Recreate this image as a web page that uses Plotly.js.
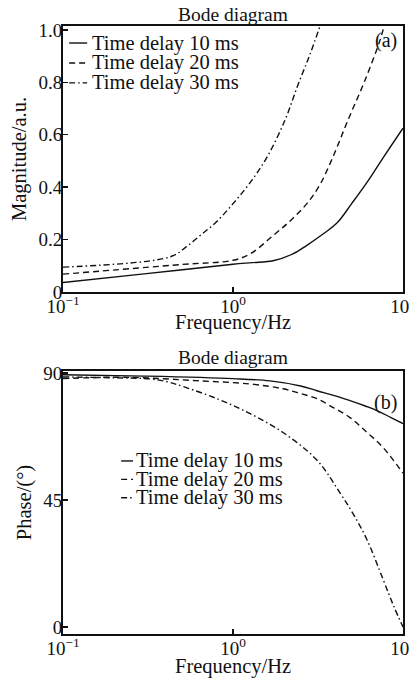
<!DOCTYPE html>
<html><head><meta charset="utf-8">
<script src="https://cdn.plot.ly/plotly-3.0.1.min.js"></script>
<style>html,body{margin:0;padding:0;background:#fff}#chart{width:410px;height:680px}</style>
</head><body><div id="chart"></div><script>
// ---- data ----
const seriesNames = ['Time delay 10 ms', 'Time delay 20 ms', 'Time delay 30 ms'];

const magFreq10 = [0.1, 0.3, 1.0, 1.3, 1.72, 2.25, 2.72, 3.4, 4.1, 5.0, 6.14, 7.6, 10];
const mag10     = [0.036, 0.069, 0.106, 0.112, 0.119, 0.145, 0.178, 0.222, 0.264, 0.338, 0.418, 0.51, 0.625];
const magFreq20 = [0.1, 0.5, 1.0, 1.26, 1.72, 2.2, 2.72, 3.25, 3.87, 4.74, 5.98, 7.32, 7.74];
const mag20     = [0.068, 0.105, 0.121, 0.145, 0.215, 0.275, 0.337, 0.41, 0.515, 0.655, 0.808, 0.96, 1.015];
const magFreq30 = [0.1, 0.426, 0.53, 0.64, 0.8, 1.0, 1.26, 1.58, 2.02, 2.41, 2.85, 3.25];
const mag30     = [0.095, 0.134, 0.172, 0.215, 0.268, 0.337, 0.417, 0.513, 0.655, 0.79, 0.91, 1.015];

const phaseFreq10 = [0.1, 0.3, 1.0, 1.65, 2.5, 3.12, 4.0, 4.88, 6.0, 7.03, 8.5, 10];
const phase10     = [89.4, 88.9, 88.0, 87.2, 85.4, 83.7, 81.9, 80.2, 78.3, 76.7, 74.2, 72.1];
const phaseFreq20 = [0.1, 0.2, 0.325, 0.6, 1.26, 1.97, 2.5, 3.12, 3.9, 4.88, 6.1, 7.63, 10];
const phase20     = [88.0, 88.5, 88.2, 87.3, 86.1, 84.4, 82.7, 80.9, 77.7, 74.2, 69.1, 63.6, 54.5];
const phaseFreq30 = [0.1, 0.2, 0.325, 0.41, 0.508, 0.805, 1.26, 1.97, 3.12, 4.26, 5.1, 6.14, 7.63, 8.8, 10];
const phase30     = [88.6, 88.3, 87.9, 86.9, 85.2, 80.9, 75.6, 68.9, 59.1, 47.5, 40.0, 30.9, 16.9, 7.5, 0];

const xTickVals = [0.1, 1, 10];
const xTickText = ['10<sup>−1</sup>', '10<sup>0</sup>', '10<sup>1</sup>'];
const magTickVals = [0, 0.2, 0.4, 0.6, 0.8, 1.0];
const magTickText = ['0', '0.2', '0.4', '0.6', '0.8', '1.0'];
const phaseTickVals = [0, 45, 90];
const phaseTickText = ['0', '45', '90'];

// ---- styles ----
const FONT = 'Liberation Serif, Times New Roman, serif';
const INK = '#111';
const dashes = ['solid', '6px,4px', '6px,3px,1.5px,3px'];

const magX = [magFreq10, magFreq20, magFreq30];
const magY = [mag10, mag20, mag30];
const phX = [phaseFreq10, phaseFreq20, phaseFreq30];
const phY = [phase10, phase20, phase30];

const traces = [];
for (let i = 0; i < 3; i++) {
  traces.push({x: magX[i], y: magY[i], name: seriesNames[i], xaxis: 'x', yaxis: 'y',
    mode: 'lines', line: {color: INK, width: 1.4, dash: dashes[i], shape: 'spline', smoothing: 1},
    showlegend: false, hoverinfo: 'skip'});
}
for (let i = 0; i < 3; i++) {
  traces.push({x: phX[i], y: phY[i], name: seriesNames[i], xaxis: 'x2', yaxis: 'y2',
    mode: 'lines', line: {color: INK, width: 1.4, dash: dashes[i], shape: 'spline', smoothing: 1},
    showlegend: false, hoverinfo: 'skip'});
}

function xAxis(anchor) {
  return {type: 'log', range: [-1, 1.00001], domain: [0, 1], anchor: anchor,
    tickvals: xTickVals, ticktext: xTickText, ticks: 'inside', ticklen: 5, tickwidth: 1.5, tickcolor: INK,
    showline: true, linewidth: 2, linecolor: INK, mirror: true, showgrid: false, zeroline: false,
    ticklabelstandoff: -4, ticklabeloverflow: 'allow',
    tickfont: {family: FONT, size: 19, color: INK}};
}
function yAxis(anchor, domain, range, tv, tt, title) {
  return {domain: domain, range: range, anchor: anchor, tickvals: tv, ticktext: tt,
    ticks: 'inside', ticklen: 5, tickwidth: 1.5, tickcolor: INK,
    showline: true, linewidth: 2, linecolor: INK, mirror: true, showgrid: false, zeroline: false,
    ticklabelstandoff: -5,
    tickfont: {family: FONT, size: 19, color: INK},
    title: {text: title, font: {family: FONT, size: 20.5, color: INK}, standoff: 6}};
}

const shapes = [];
const annotations = [];
function legend(xr, yr, x0, x1, tx, y0, step) {
  for (let i = 0; i < 3; i++) {
    const yy = y0 - i * step;
    shapes.push({type: 'line', xref: xr, yref: yr, x0: x0, x1: x1, y0: yy, y1: yy,
      line: {color: INK, width: 1.4, dash: dashes[i]}});
    annotations.push({xref: xr, yref: yr, x: tx, y: yy, xanchor: 'left', yanchor: 'middle',
      text: seriesNames[i], showarrow: false, font: {family: FONT, size: 20.5, color: INK}});
  }
}
legend('x domain', 'y domain', 0.018, 0.071, 0.078, 0.936, 0.075);
legend('x2 domain', 'y2 domain', 0.171, 0.206, 0.208, 0.658, 0.07);

function text(xr, yr, x, y, xa, t, size) {
  annotations.push({xref: xr, yref: yr, x: x, y: y, xanchor: xa, yanchor: 'middle',
    text: t, showarrow: false, font: {family: FONT, size: size, color: INK}});
}
text('x domain', 'paper', 0.5, 0.978, 'center', 'Bode diagram', 19.5);
text('x2 domain', 'paper', 0.5, 0.475, 'center', 'Bode diagram', 19.5);
text('x domain', 'paper', 0.5, 0.526, 'center', 'Frequency/Hz', 20.5);
text('x2 domain', 'paper', 0.5, 0.02, 'center', 'Frequency/Hz', 20.5);
text('x domain', 'y domain', 0.988, 0.947, 'right', '(a)', 20);
text('x2 domain', 'y2 domain', 0.988, 0.882, 'right', '(b)', 20);

const layout = {
  width: 410, height: 680,
  margin: {l: 63, r: 7, t: 0, b: 0, pad: 0},
  paper_bgcolor: '#fff', plot_bgcolor: '#fff',
  font: {family: FONT, color: INK},
  xaxis: xAxis('y'),
  yaxis: yAxis('x', [0.5706, 0.9618], [0, 1.015], magTickVals, magTickText, 'Magnitude/a.u.'),
  xaxis2: xAxis('y2'),
  yaxis2: yAxis('x2', [0.0676, 0.4544], [-2.5, 90.7], phaseTickVals, phaseTickText, 'Phase/(°)'),
  shapes: shapes,
  annotations: annotations,
  showlegend: false
};

Plotly.newPlot('chart', traces, layout, {staticPlot: true, displayModeBar: false});
</script></body></html>
